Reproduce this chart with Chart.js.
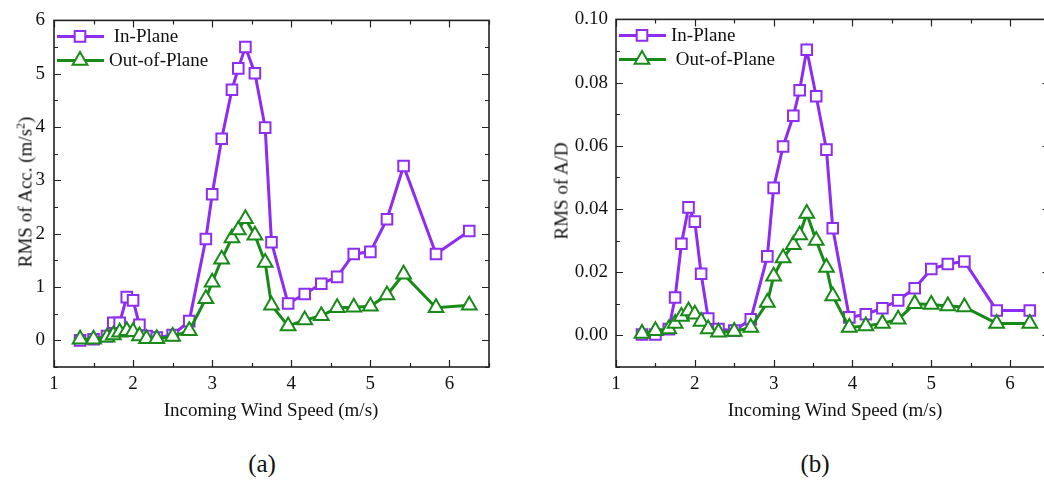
<!DOCTYPE html>
<html>
<head>
<meta charset="utf-8">
<script src="https://cdn.jsdelivr.net/npm/chart.js@4.4.1/dist/chart.umd.min.js"></script>
<style>
  html, body { margin: 0; padding: 0; background: #fff; width: 1044px; height: 480px; overflow: hidden; }
  body { position: relative; font-family: "Liberation Serif", "Times New Roman", serif; color: #111; }
  canvas { position: absolute; top: 0; }
  .txt { position: absolute; white-space: nowrap; line-height: 1; transform: translate(-50%, -50%); }
  .ytitle { transform: translate(-50%, -50%) rotate(-90deg); }
  .title { font-size: 19px; }
  .cap { font-size: 25px; }
  sup { font-size: 12px; vertical-align: 7px; line-height: 0; }
</style>
</head>
<body>
<canvas id="chartAcc" width="522" height="400" style="left:0"></canvas>
<canvas id="chartAD" width="540" height="400" style="left:520px"></canvas>

<div class="txt title ytitle" style="left:25px;top:192px">RMS of Acc. (m/s<sup>2</sup>)</div>
<div class="txt title" style="left:271px;top:409px">Incoming Wind Speed (m/s)</div>
<div class="txt cap" style="left:262px;top:463px">(a)</div>

<div class="txt title ytitle" style="left:561px;top:191px">RMS of A/D</div>
<div class="txt title" style="left:835px;top:409px">Incoming Wind Speed (m/s)</div>
<div class="txt cap" style="left:815px;top:463px">(b)</div>

<script>
// wind speeds shared by both panels (m/s)
const windSpeed = [1.33, 1.5, 1.67, 1.75, 1.83, 1.92, 2.0, 2.08, 2.17, 2.3, 2.5, 2.71, 2.92, 3.0, 3.12, 3.25,
  3.33, 3.42, 3.54, 3.67, 3.75, 3.96, 4.17, 4.38, 4.58, 4.79, 5.0, 5.21, 5.42, 5.83, 6.25];

// (a) RMS of acceleration
const accInPlane = [0.0, 0.02, 0.08, 0.33, 0.33, 0.81, 0.75, 0.29, 0.08, 0.05, 0.1, 0.36, 1.9, 2.74, 3.78, 4.7,
  5.1, 5.5, 5.01, 3.99, 1.84, 0.69, 0.87, 1.06, 1.19, 1.62, 1.66, 2.27, 3.27, 1.62, 2.05];
const accOutPlane = [0.02, 0.02, 0.06, 0.1, 0.15, 0.18, 0.16, 0.08, 0.03, 0.03, 0.07, 0.18, 0.78, 1.09, 1.52, 1.92,
  2.07, 2.28, 1.97, 1.46, 0.66, 0.27, 0.38, 0.46, 0.61, 0.62, 0.64, 0.85, 1.24, 0.61, 0.66];

// (b) RMS of A/D
const adInPlane = [0.0003, 0.0003, 0.002, 0.012, 0.029, 0.0405, 0.036, 0.0195, 0.0053, 0.002, 0.0015, 0.0051,
  0.025, 0.0467, 0.0598, 0.0695, 0.0776, 0.0904, 0.0757, 0.0588, 0.0339, 0.0057, 0.0067, 0.0086, 0.0111,
  0.0149, 0.021, 0.0226, 0.0234, 0.0079, 0.0079];
const adOutPlane = [0.0006, 0.0015, 0.002, 0.0038, 0.006, 0.0077, 0.0067, 0.0044, 0.002, 0.001, 0.0012, 0.0025,
  0.0104, 0.0187, 0.0245, 0.0287, 0.0318, 0.0386, 0.03, 0.0215, 0.0125, 0.0025, 0.003, 0.0038, 0.0051,
  0.01, 0.0098, 0.0093, 0.009, 0.0038, 0.0038];

// tick labels
const xTicks = [1, 2, 3, 4, 5, 6];
const accTicks = [0, 1, 2, 3, 4, 5, 6];
const adTicks = [0, 0.02, 0.04, 0.06, 0.08, 0.1];

const PURPLE = "#8E2CF2";
const GREEN = "#178A17";
const FONT = "'Liberation Serif', 'Times New Roman', serif";

function pts(ys) {
  return windSpeed.map((x, i) => ({ x, y: ys[i] }));
}

function drawMarker(ctx, style, r, x, y) {
  ctx.beginPath();
  if (style === "rect") {
    const s = Math.SQRT1_2 * r;
    ctx.rect(x - s, y - s, 2 * s, 2 * s);
  } else {
    ctx.moveTo(x, y - r);
    ctx.lineTo(x + r * 0.866, y + r / 2);
    ctx.lineTo(x - r * 0.866, y + r / 2);
    ctx.closePath();
  }
  ctx.fill();
  ctx.stroke();
}

// box frame with inward ticks on all four sides
const frame = {
  id: "frame",
  beforeDatasetsDraw(chart, args, o) {
    const { ctx, chartArea: a } = chart;
    const x = chart.scales.x, y = chart.scales.y;
    ctx.save();
    ctx.strokeStyle = "#222";
    ctx.lineWidth = 1.2;
    ctx.beginPath();
    const nx = Math.round((x.max - x.min) / o.xMinor);
    for (let i = 0; i <= nx; i++) {
      const v = x.min + i * o.xMinor;
      const len = o.xTicks.some((t) => Math.abs(t - v) < 1e-6) ? 7 : 4;
      const px = Math.round(x.getPixelForValue(v)) + 0.5;
      ctx.moveTo(px, a.bottom); ctx.lineTo(px, a.bottom - len);
      ctx.moveTo(px, a.top); ctx.lineTo(px, a.top + len);
    }
    const ny = Math.round((y.max - y.min) / o.yMinor);
    for (let i = 0; i <= ny; i++) {
      const v = y.min + i * o.yMinor;
      const len = o.yTicks.some((t) => Math.abs(t - v) < o.yMinor / 100) ? 7 : 4;
      const py = Math.round(y.getPixelForValue(v)) + 0.5;
      ctx.moveTo(a.left, py); ctx.lineTo(a.left + len, py);
      ctx.moveTo(a.right, py); ctx.lineTo(a.right - len, py);
    }
    ctx.stroke();
    ctx.lineWidth = 1.6;
    ctx.strokeRect(a.left, a.top, a.right - a.left, a.bottom - a.top);
    ctx.restore();
  },
};

// Origin-style legend: line segment with marker, then label
const lineLegend = {
  id: "lineLegend",
  afterDraw(chart, args, o) {
    const { ctx, chartArea: a } = chart;
    ctx.save();
    ctx.font = "19px " + FONT;
    ctx.textBaseline = "middle";
    chart.data.datasets.forEach((ds, i) => {
      const yy = a.top + 16 + i * 24;
      ctx.strokeStyle = ds.borderColor;
      ctx.lineWidth = ds.borderWidth;
      ctx.beginPath();
      ctx.moveTo(a.left + 3, yy);
      ctx.lineTo(a.left + 50, yy);
      ctx.stroke();
      ctx.fillStyle = "#fff";
      ctx.lineWidth = ds.pointBorderWidth;
      drawMarker(ctx, ds.pointStyle, ds.pointRadius, a.left + 26, yy);
      ctx.fillStyle = "#111";
      ctx.fillText(o.labels[i], a.left + 55, yy + 1);
    });
    ctx.restore();
  },
};

function makeChart(id, cfg) {
  const el = document.getElementById(id);
  const fixTicks = (vals) => (scale) => {
    scale.ticks = vals.map((v) => ({ value: v }));
  };
  return new Chart(el.getContext("2d"), {
    type: "line",
    data: {
      datasets: [
        {
          label: "In-Plane",
          data: pts(cfg.inPlane),
          borderColor: PURPLE,
          backgroundColor: "#fff",
          borderWidth: 3,
          pointStyle: "rect",
          pointRadius: 7.5,
          pointBorderWidth: 2,
          pointBackgroundColor: "#fff",
          pointBorderColor: PURPLE,
          tension: 0,
          order: 1,
        },
        {
          label: "Out-of-Plane",
          data: pts(cfg.outPlane),
          borderColor: GREEN,
          backgroundColor: "#fff",
          borderWidth: 3,
          pointStyle: "triangle",
          pointRadius: 8.5,
          pointBorderWidth: 2,
          pointBackgroundColor: "#fff",
          pointBorderColor: GREEN,
          tension: 0,
          order: 0,
        },
      ],
    },
    options: {
      responsive: false,
      animation: false,
      layout: { padding: { left: 0, top: 16, right: cfg.padRight, bottom: 0 } },
      plugins: {
        legend: { display: false },
        tooltip: { enabled: false },
        frame: { xTicks, yTicks: cfg.yTicks, xMinor: 0.5, yMinor: cfg.yMinor },
        lineLegend: { labels: cfg.labels },
      },
      scales: {
        x: {
          type: "linear",
          min: 1,
          max: 6.5,
          grid: { display: false, drawTicks: false },
          border: { display: false },
          afterBuildTicks: fixTicks(xTicks),
          afterFit: (s) => { s.height = 33; },
          ticks: {
            padding: 6,
            color: "#111",
            font: { family: FONT, size: 19 },
            maxRotation: 0,
            callback: (v) => String(v),
          },
        },
        y: {
          min: cfg.yMin,
          max: cfg.yMax,
          grid: { display: false, drawTicks: false },
          border: { display: false },
          afterBuildTicks: fixTicks(cfg.yTicks),
          afterFit: (s) => { s.width = cfg.yWidth; },
          ticks: {
            padding: cfg.yPad,
            color: "#111",
            font: { family: FONT, size: 19 },
            callback: cfg.yFormat,
          },
        },
      },
    },
    plugins: [frame, lineLegend],
  });
}

makeChart("chartAcc", {
  inPlane: accInPlane,
  outPlane: accOutPlane,
  yMin: -0.5,
  yMax: 6,
  yTicks: accTicks,
  yMinor: 0.5,
  yWidth: 54,
  yPad: 9,
  padRight: 33,
  labels: [" In-Plane", "Out-of-Plane"],
  yFormat: (v) => String(v),
});

makeChart("chartAD", {
  inPlane: adInPlane,
  outPlane: adOutPlane,
  yMin: -0.01,
  yMax: 0.1,
  yTicks: adTicks,
  yMinor: 0.01,
  yWidth: 96,
  yPad: 8,
  padRight: 10,
  labels: ["In-Plane", " Out-of-Plane"],
  yFormat: (v) => v.toFixed(2),
});
</script>
</body>
</html>
